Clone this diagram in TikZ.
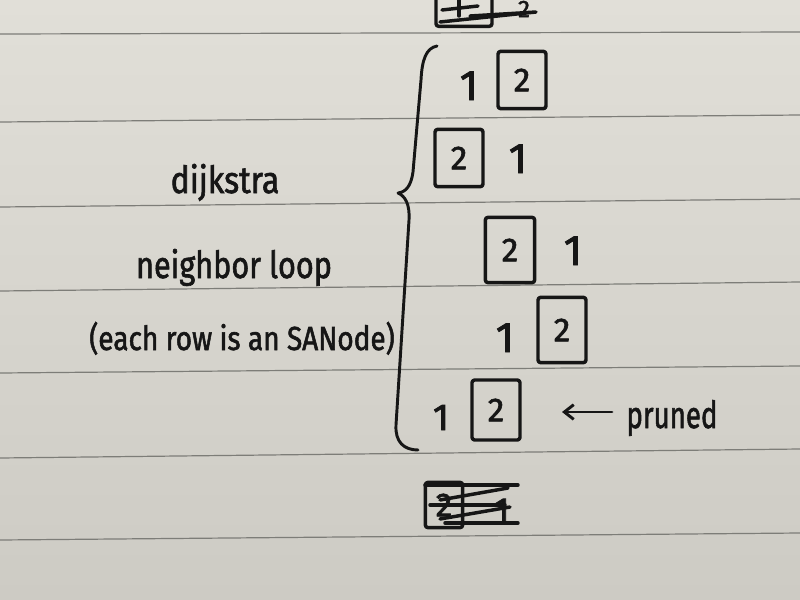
\documentclass[tikz,border=0pt]{standalone}
\usepackage{fontspec}
\setmainfont{Fira Sans}
\newfontfamily\handfont{Fira Sans}[UprightFeatures={FakeBold=1.8}]
\usetikzlibrary{arrows.meta}
\definecolor{paperA}{RGB}{225,223,216}
\definecolor{paperB}{RGB}{205,203,196}
\definecolor{ink}{RGB}{22,22,22}
\definecolor{ruling}{RGB}{125,125,120}
\tikzset{
  pen/.style={draw=ink, line width=2.6pt, line cap=round, line join=round},
  numbox/.style={pen, rounded corners=2pt, minimum width=36pt, minimum height=45pt, inner sep=0pt, text=ink, font=\handfont\fontsize{25}{25}\selectfont},
  onenum/.style={text=ink, anchor=base, inner sep=0pt, font=\handfont\fontsize{32}{32}\selectfont},
  hand/.style={text=ink, anchor=base, inner sep=0pt, font=\handfont\fontsize{28}{28}\selectfont},
  ruleline/.style={draw=ruling, line width=0.9pt},
}
\begin{document}
\begin{tikzpicture}[x=0.75pt,y=-0.75pt]
\useasboundingbox (0,0) rectangle (800,600);
\clip (0,0) rectangle (800,600);
\shade[top color=paperA, bottom color=paperB] (0,0) rectangle (800,600);
% ruled lines
\foreach \yl/\yr in {34/32,122/115,207/199,291/282,373/366,458/449,540/533}
  \draw[ruleline] (0,\yl) -- (800,\yr);

% left labels
\node[hand] (dij) at (225,193) {\scalebox{0.86}[1]{dijkstra}};
\node[hand] (nbl) at (234,278) {\scalebox{0.82}[1]{neighbor loop}};
\node[hand, font=\handfont\fontsize{25}{25}\selectfont] (row) at (242,350) {\scalebox{0.84}[1]{(each row is an SANode)}};

% brace
\draw[pen, line width=2.2pt] (437,46) .. controls (426,48) and (422,60) .. (421,80)
  -- (413,172) .. controls (411,186) and (406,192) .. (398,193)
  .. controls (405,196) and (410,204) .. (409,220)
  -- (396,425) .. controls (395,442) and (404,450) .. (418,450);

% row 1
\node[onenum] (r1a) at (469,100) {1};
\node[numbox, minimum height=43pt] (r1b) at (522,80) {2};
% row 2
\node[numbox, minimum height=43pt] (r2a) at (459,158) {2};
\node[onenum] (r2b) at (518,173) {1};
% row 3
\node[numbox, minimum width=37pt, minimum height=49pt] (r3a) at (510,250) {2};
\node[onenum] (r3b) at (573,265) {1};
% row 4
\node[onenum] (r4a) at (505,352) {1};
\node[numbox, minimum height=49pt] (r4b) at (562,330) {2};
% row 5
\node[onenum, font=\handfont\fontsize{28}{28}\selectfont] (r5a) at (441,430) {1};
\node[numbox] (r5b) at (496,410) {2};

% pruned
\node[hand] (pruned) at (672,428) {\scalebox{0.74}[1]{pruned}};
\coordinate (arrtail) at (612,412);
\coordinate (arrtip) at (562,412);
\draw[pen, line width=2.2pt, -{Straight Barb[length=7pt,width=11pt]}] (arrtail) -- (arrtip);

% crossed out at top
\node[numbox, minimum width=42pt, minimum height=32pt] (topbox) at (464,5) {};
\node[text=ink, font=\handfont\fontsize{18}{18}\selectfont, inner sep=0pt] (top2) at (524,9) {2};
\draw[pen] (459,-2) -- (459,16);
\draw[pen] (442,10) -- (478,6);
\draw[pen] (440,22) -- (536,12) -- (470,16);

% crossed out at bottom
\node[numbox, minimum width=28pt, minimum height=34pt] (botbox) at (444,505) {2};
\node[onenum, font=\handfont\fontsize{26}{26}\selectfont] (bot1) at (502,522) {1};
\draw[pen] (425,485) -- (518,485);
\draw[pen] (440,500) -- (508,488);
\draw[pen] (430,505) -- (505,505);
\draw[pen] (440,519) -- (510,507);
\draw[pen] (445,523) -- (518,523);
\end{tikzpicture}
\end{document}
